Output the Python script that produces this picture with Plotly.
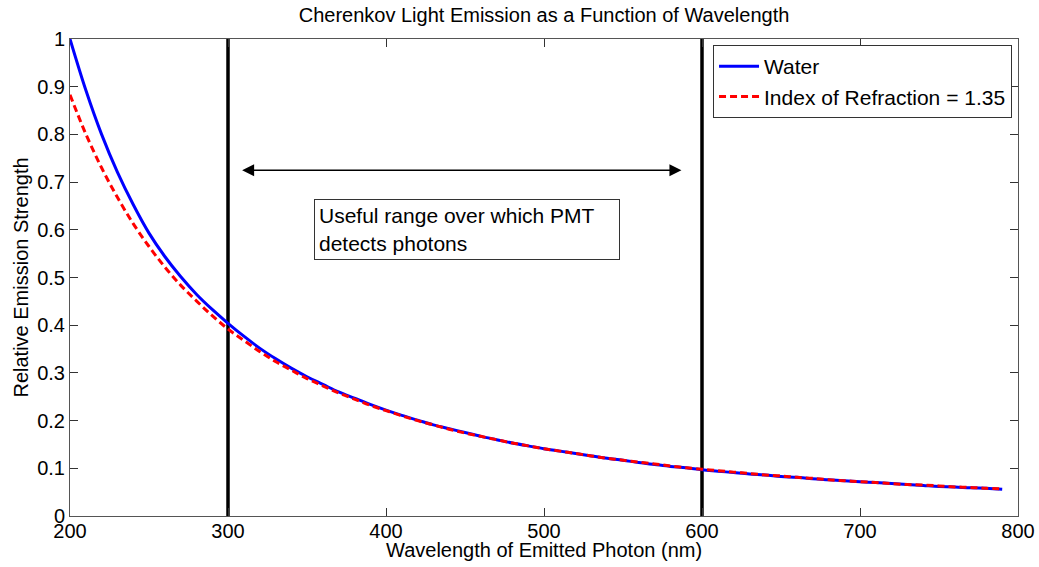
import plotly.graph_objects as go

wavelength = [200, 210, 220, 230, 240, 250, 260, 270, 280, 290,
              300, 310, 320, 330, 340, 350, 360, 370, 380, 390,
              400, 410, 420, 430, 440, 450, 460, 470, 480, 490,
              500, 510, 520, 530, 540, 550, 560, 570, 580, 590,
              600, 610, 620, 630, 640, 650, 660, 670, 680, 690,
              700, 710, 720, 730, 740, 750, 760, 770, 780, 790]

water = [1.000, 0.893, 0.800, 0.721, 0.653, 0.593, 0.544, 0.502, 0.465, 0.433,
         0.404, 0.377, 0.352, 0.330, 0.310, 0.292, 0.276, 0.260, 0.247, 0.234,
         0.222, 0.211, 0.201, 0.191, 0.183, 0.175, 0.167, 0.160, 0.153, 0.147,
         0.141, 0.136, 0.131, 0.126, 0.121, 0.117, 0.112, 0.108, 0.104, 0.101,
         0.097, 0.094, 0.091, 0.088, 0.086, 0.083, 0.081, 0.078, 0.076, 0.074,
         0.072, 0.070, 0.068, 0.066, 0.064, 0.062, 0.061, 0.059, 0.058, 0.056]

n135 = [0.883, 0.801, 0.730, 0.668, 0.613, 0.565, 0.522, 0.484, 0.451, 0.420,
        0.392, 0.368, 0.345, 0.324, 0.306, 0.288, 0.273, 0.258, 0.245, 0.232,
        0.221, 0.210, 0.200, 0.191, 0.182, 0.174, 0.167, 0.160, 0.153, 0.147,
        0.141, 0.136, 0.131, 0.126, 0.121, 0.117, 0.113, 0.109, 0.105, 0.101,
        0.098, 0.095, 0.092, 0.089, 0.086, 0.084, 0.081, 0.079, 0.076, 0.074,
        0.072, 0.070, 0.068, 0.066, 0.065, 0.063, 0.061, 0.060, 0.058, 0.057]

range_limits = [300, 600]
x_ticks = [200, 300, 400, 500, 600, 700, 800]
y_ticks = [0, 0.1, 0.2, 0.3, 0.4, 0.5, 0.6, 0.7, 0.8, 0.9, 1]
y_tick_text = ["0", "0.1", "0.2", "0.3", "0.4", "0.5", "0.6", "0.7", "0.8", "0.9", "1"]

FONT = "Liberation Sans, Arial, sans-serif"

fig = go.Figure()

for xv in range_limits:
    fig.add_trace(go.Scatter(x=[xv, xv], y=[0, 1], mode="lines",
                             line=dict(color="black", width=3.5),
                             showlegend=False, hoverinfo="skip"))

fig.add_trace(go.Scatter(x=wavelength, y=water, mode="lines", name="Water",
                         line=dict(color="#0000ff", width=3, shape="spline")))
fig.add_trace(go.Scatter(x=wavelength, y=n135, mode="lines",
                         name="Index of Refraction = 1.35",
                         line=dict(color="#ff0000", width=3, dash="7px,4px", shape="spline")))

axis_common = dict(showline=True, linecolor="#555555", linewidth=1, mirror="ticks",
                   ticks="inside", ticklen=8, tickcolor="#333333", tickwidth=1,
                   showgrid=False, zeroline=False, automargin=False,
                   tickfont=dict(family=FONT, size=20, color="black"))

fig.update_xaxes(range=[200, 800], tickvals=x_ticks, ticklabelstandoff=-3, **axis_common)
fig.update_yaxes(range=[0, 1], tickvals=y_ticks, ticktext=y_tick_text, **axis_common)

fig.add_annotation(x=587, y=0.725, ax=308, ay=0.725, xref="x", yref="y",
                   axref="x", ayref="y", text="", showarrow=True,
                   arrowside="end+start", arrowhead=2, startarrowhead=2,
                   arrowsize=1.6, startarrowsize=1.6, arrowwidth=1.5, arrowcolor="black")

fig.add_annotation(x=354.4, y=0.6646, xref="x", yref="y", xanchor="left", yanchor="top",
                   text="Useful range over which PMT<br>detects photons",
                   showarrow=False, align="left", width=296, height=51,
                   bordercolor="#333333", borderwidth=1, borderpad=4, bgcolor="white",
                   font=dict(family=FONT, size=21, color="black"))

fig.add_annotation(x=0.5, y=-0.071, xref="paper", yref="paper", yanchor="middle",
                   text="Wavelength of Emitted Photon (nm)", showarrow=False,
                   font=dict(family=FONT, size=20, color="black"))
fig.add_annotation(x=-0.0527, y=0.5, xref="paper", yref="paper", xanchor="center",
                   yanchor="middle", textangle=-90,
                   text="Relative Emission Strength", showarrow=False,
                   font=dict(family=FONT, size=20, color="black"))

fig.update_layout(
    width=1039, height=567,
    margin=dict(l=70, r=21, t=39, b=51, autoexpand=False),
    paper_bgcolor="white", plot_bgcolor="white",
    title=dict(text="Cherenkov Light Emission as a Function of Wavelength",
               x=0.5236, xanchor="center", y=1 - 15 / 567, yanchor="middle",
               yref="container",
               font=dict(family=FONT, size=20, color="black")),
    legend=dict(x=0.9937, y=0.9874, xanchor="right", yanchor="top",
                bordercolor="#333333", borderwidth=1, bgcolor="white",
                font=dict(family=FONT, size=21, color="black"),
                itemwidth=40, tracegroupgap=0),
    font=dict(family=FONT, color="black"),
)

fig.write_html("out.html")
